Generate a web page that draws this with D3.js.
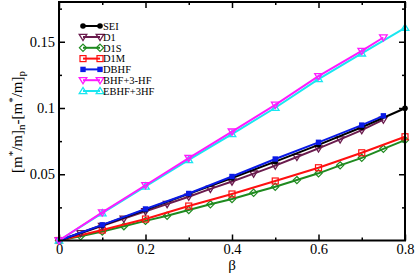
<!DOCTYPE html>
<html><head><meta charset="utf-8">
<script src="https://cdn.jsdelivr.net/npm/d3@7"></script>
<style>body{margin:0;background:#fff}svg{display:block}text{font-family:"Liberation Serif","Times New Roman",Times,serif}</style>
</head><body>
<svg id="c" width="415" height="275"></svg>
<script>
const seriesNames = ["SEI","D1","D1S","D1M","DBHF","BHF+3-HF","EBHF+3HF"];
const seiX = [0,0.1,0.2,0.3,0.4,0.5,0.6,0.7,0.8];
const seiY = [0,0.0115,0.0232,0.0352,0.0472,0.0595,0.0722,0.0855,0.0998];
const d1X = [0,0.05,0.1,0.15,0.2,0.25,0.3,0.35,0.4,0.45,0.5,0.55,0.6,0.65,0.7,0.75];
const d1Y = [0,0.0055,0.011,0.0165,0.022,0.0275,0.033,0.039,0.0445,0.0505,0.0565,0.063,0.0695,0.0763,0.0833,0.0912];
const d1sX = [0,0.05,0.1,0.15,0.2,0.25,0.3,0.35,0.4,0.45,0.5,0.55,0.6,0.65,0.7,0.75,0.8];
const d1sY = [0,0.0032,0.0068,0.0108,0.0148,0.0187,0.023,0.0273,0.0313,0.036,0.0406,0.0456,0.0507,0.0567,0.0624,0.0692,0.0758];
const d1mX = [0,0.1,0.2,0.3,0.4,0.5,0.6,0.7,0.8];
const d1mY = [0,0.0079,0.0162,0.026,0.0351,0.0449,0.0549,0.0662,0.0783];
const dbhfX = [0,0.1,0.2,0.3,0.4,0.5,0.6,0.7,0.75];
const dbhfY = [0,0.0118,0.0238,0.0355,0.0483,0.0615,0.0741,0.0871,0.0941];
const bhfX = [0,0.1,0.2,0.3,0.4,0.5,0.6,0.7,0.75];
const bhfY = [0,0.0212,0.0417,0.0622,0.0822,0.1024,0.124,0.1431,0.1532];
const ebhfX = [0,0.1,0.2,0.3,0.4,0.5,0.6,0.7,0.8];
const ebhfY = [0,0.0206,0.0408,0.0608,0.0803,0.1002,0.1218,0.1412,0.1605];
const xTicks = [0,0.2,0.4,0.6,0.8];
const xTickLabels = ["0","0.2","0.4","0.6","0.8"];
const yTicks = [0.05,0.1,0.15];
const yTickLabels = ["0.05","0.1","0.15"];

const colors = ["#000000","#6a1b4d","#1f8a1f","#ff1010","#0a1ae6","#ff1aff","#1ae6f0"];
const symbols = ["circleF","triDown","diamond","square","squareF","triDown","triUp"];
const data = [[seiX,seiY],[d1X,d1Y],[d1sX,d1sY],[d1mX,d1mY],[dbhfX,dbhfY],[bhfX,bhfY],[ebhfX,ebhfY]];

const svg = d3.select("#c");
const L=59, R=405, T=2, B=240.5;
const x = d3.scaleLinear().domain([0,0.8]).range([L,R]);
const y = d3.scaleLinear().domain([0,0.18]).range([B,T]);
const font = "Liberation Serif, Times New Roman, Times, serif";

svg.append("g").attr("transform",`translate(0,${B})`)
  .call(d3.axisBottom(x).tickValues(xTicks).tickFormat((d,i)=>xTickLabels[i]).tickSizeInner(-6).tickSizeOuter(0).tickPadding(3));
svg.append("g").attr("transform",`translate(0,${B})`)
  .call(d3.axisBottom(x).tickValues([0.1,0.3,0.5,0.7]).tickFormat("").tickSizeInner(-3).tickSizeOuter(0));
svg.append("g").attr("transform",`translate(0,${T})`)
  .call(d3.axisTop(x).tickValues(xTicks).tickFormat("").tickSizeInner(-6).tickSizeOuter(0));
svg.append("g").attr("transform",`translate(0,${T})`)
  .call(d3.axisTop(x).tickValues([0.1,0.3,0.5,0.7]).tickFormat("").tickSizeInner(-3).tickSizeOuter(0));
svg.append("g").attr("transform",`translate(${L},0)`)
  .call(d3.axisLeft(y).tickValues(yTicks).tickFormat((d,i)=>yTickLabels[i]).tickSizeInner(-6).tickSizeOuter(0).tickPadding(4));
svg.append("g").attr("transform",`translate(${L},0)`)
  .call(d3.axisLeft(y).tickValues([0.025,0.075,0.125,0.175]).tickFormat("").tickSizeInner(-3).tickSizeOuter(0));
svg.append("g").attr("transform",`translate(${R},0)`)
  .call(d3.axisRight(y).tickValues(yTicks).tickFormat("").tickSizeInner(-6).tickSizeOuter(0));
svg.append("g").attr("transform",`translate(${R},0)`)
  .call(d3.axisRight(y).tickValues([0.025,0.075,0.125,0.175]).tickFormat("").tickSizeInner(-3).tickSizeOuter(0));
svg.selectAll(".domain").remove();
svg.selectAll("g").attr("font-family",null).attr("font-size",null);
svg.selectAll(".tick line").attr("stroke","#000").attr("stroke-width",1.5);
svg.selectAll(".tick text").style("font-family",font).style("font-size","14.5px").attr("fill","#000");

const line = d3.line().x(d=>x(d[0])).y(d=>y(d[1]));
function marker(g, type, cx, cy, col){
  if(type==="circleF"){g.append("circle").attr("cx",cx).attr("cy",cy).attr("r",2.8).attr("fill",col);}
  else if(type==="squareF"){g.append("rect").attr("x",cx-2.7).attr("y",cy-2.7).attr("width",5.4).attr("height",5.4).attr("fill",col);}
  else if(type==="square"){g.append("rect").attr("x",cx-3).attr("y",cy-3).attr("width",6).attr("height",6).attr("fill","none").attr("stroke",col).attr("stroke-width",1.2);}
  else if(type==="diamond"){g.append("path").attr("d",`M${cx},${cy-3.6}L${cx+3.6},${cy}L${cx},${cy+3.6}L${cx-3.6},${cy}Z`).attr("fill","none").attr("stroke",col).attr("stroke-width",1.2);}
  else if(type==="triDown"){g.append("path").attr("d",`M${cx-3.8},${cy-2.6}L${cx+3.8},${cy-2.6}L${cx},${cy+3.6}Z`).attr("fill","none").attr("stroke",col).attr("stroke-width",1.3);}
  else if(type==="triUp"){g.append("path").attr("d",`M${cx-3.8},${cy+2.6}L${cx+3.8},${cy+2.6}L${cx},${cy-3.6}Z`).attr("fill","none").attr("stroke",col).attr("stroke-width",1.3);}
}
const order=[2,3,1,0,4,6,5];
order.forEach(i=>{
  const pts = data[i][0].map((v,j)=>[v,data[i][1][j]]);
  const g = svg.append("g");
  g.append("path").datum(pts).attr("d",line).attr("fill","none").attr("stroke",colors[i]).attr("stroke-width",2);
  pts.forEach(p=>marker(g,symbols[i],x(p[0]),y(p[1]),colors[i]));
});

svg.append("rect").attr("x",L).attr("y",T).attr("width",R-L).attr("height",B-T)
  .attr("fill","none").attr("stroke","#000").attr("stroke-width",2);

const lg = svg.append("g");
const rowY = [26,37,47.8,58.6,69.4,80.2,91];
seriesNames.forEach((n,i)=>{
  lg.append("line").attr("x1",83).attr("x2",100).attr("y1",rowY[i]).attr("y2",rowY[i]).attr("stroke",colors[i]).attr("stroke-width",2);
  marker(lg,symbols[i],83,rowY[i],colors[i]);
  marker(lg,symbols[i],100,rowY[i],colors[i]);
  lg.append("text").attr("x",103).attr("y",rowY[i]+3.7).style("font-family",font).style("font-size","10.5px").attr("fill","#000").text(n);
});

svg.append("text").attr("x",x(0.4)).attr("y",270).attr("text-anchor","middle").style("font-family",font).style("font-size","15px").text("β");
const yl = svg.append("text").attr("transform","translate(22,122) rotate(-90)").attr("text-anchor","middle").style("font-family",font).style("font-size","15px");
yl.append("tspan").text("[m");
yl.append("tspan").attr("dy",-6).style("font-size","11px").text("*");
yl.append("tspan").attr("dy",6).text("/m]");
yl.append("tspan").attr("dy",3).style("font-size","11px").text("n");
yl.append("tspan").attr("dy",-3).text("-[m");
yl.append("tspan").attr("dy",-6).style("font-size","11px").text("*");
yl.append("tspan").attr("dy",6).text("/m]");
yl.append("tspan").attr("dy",3).style("font-size","11px").text("p");
</script>
</body></html>
